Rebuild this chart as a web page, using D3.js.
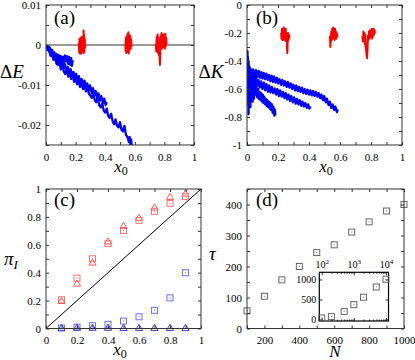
<!DOCTYPE html>
<html>
<head>
<meta charset="utf-8">
<script src="https://cdn.jsdelivr.net/npm/d3@7"></script>
<style>
body { margin: 0; background: #fff; }
svg, svg text { font-family: "Liberation Serif", "Times New Roman", Times, "DejaVu Serif", serif; fill: #000; }
</style>
</head>
<body>
<div id="chart"></div>
<script>
// ---- panel (a): energy change vs x0
const dEBlue1 = [[0,0],[0.008,-0.0009],[0.013,-0.0003],[0.02,-0.0016],[0.027,-0.0008],[0.035,-0.0023],[0.041,-0.0012],[0.05,-0.0030],[0.056,-0.0018],[0.064,-0.0034],[0.07,-0.0022],[0.079,-0.0039],[0.085,-0.0025],[0.094,-0.0042],[0.099,-0.0027],[0.108,-0.0046],[0.114,-0.0030],[0.121,-0.0044],[0.127,-0.0026],[0.135,-0.0041],[0.141,-0.0028],[0.15,-0.0047],[0.156,-0.0030],[0.163,-0.0049],[0.17,-0.0033],[0.175,-0.0052],[0.18,-0.0038]];
const dEBlue2 = [[0,0],[0.01,-0.0010],[0.018,-0.0004],[0.027,-0.0020],[0.035,-0.0012],[0.046,-0.0030],[0.054,-0.0019],[0.065,-0.0038],[0.073,-0.0029],[0.083,-0.0045],[0.091,-0.0034],[0.1,-0.0053],[0.109,-0.0043],[0.12,-0.0059],[0.128,-0.0048],[0.139,-0.0066],[0.147,-0.0055],[0.158,-0.0072],[0.166,-0.0060],[0.176,-0.0079],[0.185,-0.0067],[0.195,-0.0083],[0.204,-0.0072],[0.214,-0.0090],[0.222,-0.0078],[0.233,-0.0094],[0.241,-0.0085],[0.252,-0.0101],[0.26,-0.0089],[0.271,-0.0107],[0.279,-0.0096],[0.29,-0.0113],[0.298,-0.0101],[0.309,-0.0120],[0.317,-0.0108],[0.328,-0.0126],[0.336,-0.0115],[0.347,-0.0133],[0.355,-0.0121],[0.366,-0.0139],[0.374,-0.0128],[0.385,-0.0145],[0.393,-0.0134],[0.403,-0.0150],[0.41,-0.0142]];
const dEBlue3 = [[0,0],[0.01,-0.0012],[0.02,-0.0008],[0.03,-0.0027],[0.04,-0.0017],[0.05,-0.0037],[0.06,-0.0026],[0.07,-0.0046],[0.08,-0.0050],[0.09,-0.0039],[0.10,-0.0061],[0.11,-0.0050],[0.12,-0.0066],[0.13,-0.0072],[0.14,-0.0061],[0.15,-0.0079],[0.16,-0.0068],[0.17,-0.0085],[0.18,-0.0074],[0.19,-0.0092],[0.20,-0.0081],[0.21,-0.0098],[0.22,-0.0088],[0.23,-0.0105],[0.24,-0.0094],[0.25,-0.0110],[0.26,-0.0100],[0.27,-0.0116],[0.28,-0.0106],[0.29,-0.0122],[0.30,-0.0126],[0.31,-0.0132],[0.32,-0.0121],[0.33,-0.0138],[0.34,-0.0143],[0.35,-0.0132],[0.36,-0.0151],[0.37,-0.0156],[0.38,-0.0146],[0.39,-0.0164],[0.40,-0.0169],[0.41,-0.0159],[0.42,-0.0177],[0.43,-0.0182],[0.44,-0.0172],[0.45,-0.0190],[0.46,-0.0198],[0.47,-0.0186],[0.48,-0.0202],[0.49,-0.0206],[0.50,-0.0193],[0.51,-0.0212],[0.52,-0.0216],[0.53,-0.0202],[0.54,-0.0224],[0.55,-0.0230],[0.56,-0.0242],[0.565,-0.0230],[0.57,-0.0249],[0.575,-0.0236],[0.58,-0.0254]];
const dERed1 = [[0.222,0.0005],[0.224,-0.0018],[0.226,0.0015],[0.228,-0.0021],[0.230,0.0012],[0.232,-0.0015],[0.234,0.0018],[0.236,-0.0022],[0.238,0.0010],[0.240,-0.0012],[0.242,0.0020],[0.244,-0.0019],[0.246,0.0014],[0.248,-0.0016],[0.250,0.0022],[0.252,-0.0010],[0.254,0.0036],[0.256,-0.0020],[0.258,0.0025],[0.260,-0.0014],[0.262,0.0015],[0.264,-0.0008]];
const dERed2 = [[0.536,0.0003],[0.538,-0.0015],[0.540,0.0018],[0.542,-0.0020],[0.545,0.0022],[0.548,-0.0018],[0.551,0.0028],[0.554,-0.0016],[0.557,0.0032],[0.560,-0.0021],[0.563,0.0020],[0.566,-0.0012],[0.569,0.0024],[0.572,-0.0010],[0.575,0.0015],[0.578,-0.0005]];
const dERed3 = [[0.742,0.0004],[0.745,-0.0016],[0.748,0.0020],[0.751,-0.0012],[0.754,0.0026],[0.757,-0.0020],[0.760,0.0018],[0.763,-0.0025],[0.766,0.0012],[0.768,-0.0035],[0.770,-0.0050],[0.772,-0.0020],[0.775,0.0024],[0.778,-0.0010],[0.781,0.0030],[0.784,-0.0008],[0.787,0.0022],[0.790,-0.0006],[0.793,0.0026],[0.796,-0.0004],[0.800,0.0020],[0.803,-0.0009],[0.806,0.0028],[0.809,-0.0003],[0.812,0.0018],[0.815,0.0002]];
const aYTicks = [0.01, 0, -0.01, -0.02];
const aYMinor = [0.005, -0.005, -0.015, -0.025];

// ---- panel (b): kinetic change vs x0
const dKBlue1 = [[0,-0.47],[0.002,-0.64],[0.004,-0.37],[0.006,-0.71],[0.008,-0.43],[0.010,-0.78],[0.013,-0.49],[0.016,-0.69],[0.019,-0.45],[0.022,-0.73],[0.025,-0.52],[0.028,-0.67],[0.032,-0.54],[0.036,-0.69],[0.040,-0.56],[0.045,-0.67],[0.050,-0.57],[0.055,-0.64],[0.060,-0.59],[0.066,-0.66],[0.071,-0.60],[0.077,-0.67],[0.081,-0.62],[0.087,-0.68],[0.091,-0.63],[0.097,-0.69],[0.101,-0.64],[0.107,-0.70],[0.111,-0.655],[0.117,-0.71],[0.121,-0.67],[0.127,-0.72],[0.131,-0.68],[0.137,-0.73],[0.141,-0.69],[0.147,-0.74],[0.151,-0.70],[0.157,-0.75],[0.161,-0.71],[0.166,-0.77],[0.171,-0.73],[0.176,-0.79],[0.180,-0.75],[0.183,-0.79]];
const dKBlue2 = [[0,-0.50],[0.003,-0.33],[0.006,-0.58],[0.009,-0.40],[0.012,-0.64],[0.015,-0.44],[0.018,-0.60],[0.021,-0.47],[0.025,-0.62],[0.03,-0.49],[0.035,-0.61],[0.04,-0.51],[0.05,-0.59],[0.058,-0.52],[0.066,-0.58],[0.074,-0.535],[0.083,-0.59],[0.091,-0.545],[0.10,-0.60],[0.109,-0.555],[0.118,-0.61],[0.126,-0.565],[0.135,-0.62],[0.143,-0.575],[0.152,-0.625],[0.16,-0.585],[0.17,-0.63],[0.178,-0.595],[0.188,-0.64],[0.196,-0.60],[0.206,-0.65],[0.214,-0.61],[0.224,-0.655],[0.232,-0.62],[0.242,-0.665],[0.25,-0.63],[0.26,-0.675],[0.268,-0.64],[0.278,-0.685],[0.286,-0.65],[0.296,-0.695],[0.304,-0.66],[0.314,-0.705],[0.322,-0.67],[0.332,-0.71],[0.34,-0.68],[0.35,-0.72],[0.358,-0.69],[0.368,-0.725],[0.376,-0.70],[0.386,-0.735],[0.394,-0.71],[0.403,-0.74],[0.41,-0.725]];
const dKBlue3 = [[0,-0.55],[0.003,-0.38],[0.006,-0.66],[0.009,-0.42],[0.012,-0.55],[0.016,-0.45],[0.02,-0.56],[0.025,-0.46],[0.03,-0.53],[0.04,-0.46],[0.05,-0.52],[0.058,-0.465],[0.067,-0.515],[0.075,-0.47],[0.084,-0.52],[0.092,-0.48],[0.10,-0.525],[0.108,-0.485],[0.117,-0.53],[0.125,-0.49],[0.134,-0.535],[0.142,-0.50],[0.151,-0.545],[0.159,-0.505],[0.168,-0.55],[0.176,-0.51],[0.185,-0.555],[0.193,-0.52],[0.202,-0.56],[0.21,-0.53],[0.22,-0.57],[0.228,-0.535],[0.238,-0.575],[0.246,-0.545],[0.256,-0.585],[0.264,-0.55],[0.274,-0.59],[0.282,-0.56],[0.292,-0.60],[0.30,-0.57],[0.31,-0.61],[0.318,-0.575],[0.328,-0.615],[0.336,-0.585],[0.346,-0.62],[0.354,-0.59],[0.364,-0.63],[0.372,-0.60],[0.382,-0.635],[0.39,-0.605],[0.40,-0.64],[0.408,-0.61],[0.418,-0.645],[0.426,-0.615],[0.436,-0.65],[0.444,-0.62],[0.454,-0.655],[0.462,-0.63],[0.472,-0.665],[0.48,-0.64],[0.49,-0.68],[0.498,-0.65],[0.508,-0.695],[0.516,-0.67],[0.526,-0.715],[0.534,-0.69],[0.544,-0.735],[0.552,-0.71],[0.562,-0.75],[0.57,-0.725],[0.58,-0.765],[0.587,-0.745]];
const dKRed1 = [[0.220,-0.20],[0.223,-0.24],[0.226,-0.17],[0.229,-0.25],[0.232,-0.18],[0.235,-0.23],[0.238,-0.16],[0.241,-0.25],[0.244,-0.19],[0.247,-0.24],[0.250,-0.17],[0.253,-0.26],[0.256,-0.20],[0.258,-0.30],[0.260,-0.345],[0.262,-0.28],[0.265,-0.20],[0.268,-0.25],[0.271,-0.21],[0.274,-0.24]];
const dKRed2 = [[0.535,-0.22],[0.538,-0.30],[0.541,-0.24],[0.544,-0.19],[0.547,-0.25],[0.550,-0.17],[0.553,-0.23],[0.556,-0.16],[0.559,-0.24],[0.562,-0.18],[0.565,-0.25],[0.568,-0.17],[0.571,-0.23],[0.574,-0.19],[0.577,-0.24],[0.580,-0.20],[0.583,-0.23]];
const dKRed3 = [[0.745,-0.22],[0.748,-0.26],[0.751,-0.19],[0.754,-0.25],[0.757,-0.20],[0.760,-0.28],[0.763,-0.21],[0.766,-0.30],[0.769,-0.33],[0.772,-0.36],[0.775,-0.38],[0.778,-0.30],[0.781,-0.22],[0.784,-0.25],[0.787,-0.19],[0.790,-0.24],[0.793,-0.18],[0.796,-0.23],[0.799,-0.19],[0.802,-0.22],[0.805,-0.17],[0.808,-0.24],[0.811,-0.18],[0.814,-0.22],[0.817,-0.17],[0.820,-0.21],[0.823,-0.18],[0.826,-0.20]];
const bYTicks = [0, -0.2, -0.4, -0.6, -0.8, -1];
const bYMinor = [-0.1, -0.3, -0.5, -0.7, -0.9];

// ---- panel (c): pi_I vs x0
const x0Vals = [0.1, 0.2, 0.3, 0.4, 0.5, 0.6, 0.7, 0.8, 0.9];
const piRedSq = [0.206, 0.361, 0.50, 0.608, 0.703, 0.775, 0.84, 0.897, 0.945];
const piRedTri = [0.194, 0.318, 0.469, 0.62, 0.732, 0.79, 0.864, 0.94, 0.965];
const piBlueSq = [0.003, 0.01, 0.02, 0.03, 0.053, 0.084, 0.13, 0.22, 0.40];
const piBlueTri = [0.002, 0.002, 0.002, 0.002, 0.001, 0.001, 0.001, 0.001, 0.001];
const unitTicks = [0, 0.2, 0.4, 0.6, 0.8, 1];
const unitMinor = [0.1, 0.3, 0.5, 0.7, 0.9];

// ---- panel (d): tau vs N
const nVals = [100, 200, 300, 400, 500, 600, 700, 800, 900, 1000];
const tauVals = [57, 104, 157, 200, 245, 270, 311, 344, 379, 400];
const nInset = [100, 200, 500, 1000, 2000, 5000, 10000];
const tauInset = [35, 70, 200, 370, 555, 812, 1005];
const dXTicks = [200, 400, 600, 800, 1000];
const dXMinor = [100, 300, 500, 700, 900];
const dYTicks = [0, 100, 200, 300, 400];
const dYMinor = [50, 150, 250, 350, 450];
const insetXTicks = [100, 1000, 10000];
const insetYTicks = [0, 500, 1000];

const serif = "Liberation Serif, Times New Roman, Times, DejaVu Serif, serif";

const svg = d3.select("#chart").append("svg")
    .attr("width", 415)
    .attr("height", 360)
    .attr("font-family", serif);

const fmt = (d) => String(d);
const frameColor = "#333";

// draws one set of ticks on one side; labels only if a format is given
function side(axisFn, scale, values, pos, fmtFn, pad, size, fontSize)
{
    let ax = axisFn(scale)
        .tickValues(values)
        .tickSizeInner(-(size || 3))
        .tickSizeOuter(0)
        .tickPadding(pad || 0)
        .tickFormat(fmtFn || "");
    let g = svg.append("g")
        .attr("transform", pos)
        .call(ax)
        .attr("font-family", serif)
        .attr("font-size", fontSize || 11);
    g.select(".domain").remove();
    g.selectAll("line").attr("stroke", frameColor);
    if (fmtFn)
        g.selectAll("text").attr("fill", "#000").style("font-family", serif);
    else
        g.selectAll("text").remove(); //tick marks only
    return g;
}

function panel(xScale, yScale, xMaj, xMin, yMaj, yMin, xPad, yPad)
{
    let [l, r] = xScale.range(), [b, t] = yScale.range();
    side(d3.axisBottom, xScale, xMaj, `translate(0,${b})`, fmt, xPad);
    side(d3.axisBottom, xScale, xMin, `translate(0,${b})`);
    side(d3.axisTop, xScale, xMaj.concat(xMin), `translate(0,${t})`);
    side(d3.axisLeft, yScale, yMaj, `translate(${l},0)`, fmt, yPad);
    side(d3.axisLeft, yScale, yMin, `translate(${l},0)`);
    side(d3.axisRight, yScale, yMaj.concat(yMin), `translate(${r},0)`);
    svg.append("rect")
        .attr("x", l).attr("y", t)
        .attr("width", r - l).attr("height", b - t)
        .attr("fill", "none")
        .attr("stroke", frameColor)
        .attr("stroke-width", 1);
}

function clip(id, xScale, yScale)
{
    let [l, r] = xScale.range(), [b, t] = yScale.range();
    svg.append("clipPath").attr("id", id)
        .append("rect").attr("x", l).attr("y", t).attr("width", r - l).attr("height", b - t);
}

function trace(data, xScale, yScale, color, clipId, w)
{
    let line = d3.line().x(d => xScale(d[0])).y(d => yScale(d[1]));
    svg.append("path")
        .datum(data)
        .attr("clip-path", `url(#${clipId})`)
        .attr("fill", "none")
        .attr("stroke", color)
        .attr("stroke-width", w)
        .attr("stroke-linejoin", "round")
        .attr("d", line);
}

function squares(xs, ys, xScale, yScale, color, size)
{
    let h = size / 2;
    let g = svg.append("g");
    xs.forEach((xv, i) => {
        let cx = xScale(xv), cy = yScale(ys[i]);
        g.append("rect")
            .attr("x", cx - h).attr("y", cy - h)
            .attr("width", size).attr("height", size)
            .attr("fill", "none").attr("stroke", color).attr("stroke-width", 1);
        g.append("rect")
            .attr("x", cx - 0.5).attr("y", cy - 0.5)
            .attr("width", 1).attr("height", 1)
            .attr("fill", color);
    });
}

function triangles(xs, ys, xScale, yScale, color)
{
    let sym = d3.symbol(d3.symbolTriangle, 22);
    svg.append("g").selectAll("path")
        .data(xs)
        .enter().append("path")
        .attr("transform", (d, i) => `translate(${xScale(d)},${yScale(ys[i])})`)
        .attr("d", sym)
        .attr("fill", "none")
        .attr("stroke", color)
        .attr("stroke-width", 1);
}

function xLabel(x, y)
{
    let t = svg.append("text").attr("x", x).attr("y", y)
        .attr("text-anchor", "middle").attr("font-size", 17);
    t.append("tspan").attr("font-style", "italic").text("x");
    t.append("tspan").attr("font-size", 12).attr("dy", 3).text("0");
}

function deltaLabel(x, y, letter)
{
    let t = svg.append("text").attr("x", x).attr("y", y)
        .attr("text-anchor", "middle").attr("font-size", 19);
    t.append("tspan").text("Δ");
    t.append("tspan").attr("font-style", "italic").text(letter);
}

function tag(x, y, s)
{
    svg.append("text").attr("x", x).attr("y", y)
        .attr("font-size", 19).text(s);
}

// ---------- (a)
let xA = d3.scaleLinear().domain([0, 1]).range([46, 194]);
let yA = d3.scaleLinear().domain([-0.025, 0.01]).range([145, 5]);
svg.append("line")
    .attr("x1", xA(0)).attr("x2", xA(1))
    .attr("y1", yA(0)).attr("y2", yA(0))
    .attr("stroke", "#333").attr("stroke-width", 1);
clip("clipA", xA, yA);
[dEBlue1, dEBlue2, dEBlue3].forEach(s => trace(s, xA, yA, "#0000ff", "clipA", 2.3));
[dERed1, dERed2, dERed3].forEach(s => trace(s, xA, yA, "#ff0000", "clipA", 2));
panel(xA, yA, unitTicks, unitMinor, aYTicks, aYMinor, 8, 5);
deltaLabel(12, 78, "E");
xLabel(121, 172);
tag(54, 24, "(a)");

// ---------- (b)
let xB = d3.scaleLinear().domain([0, 1]).range([247, 402]);
let yB = d3.scaleLinear().domain([-1, 0]).range([145, 5]);
clip("clipB", xB, yB);
[dKBlue1, dKBlue2, dKBlue3].forEach(s => trace(s, xB, yB, "#0000ff", "clipB", 2.3));
[dKRed1, dKRed2, dKRed3].forEach(s => trace(s, xB, yB, "#ff0000", "clipB", 2));
panel(xB, yB, unitTicks, unitMinor, bYTicks, bYMinor, 8, 5);
deltaLabel(211, 78, "K");
xLabel(326, 172);
tag(256, 24, "(b)");

// ---------- (c)
let xC = d3.scaleLinear().domain([0, 1]).range([46, 201]);
let yC = d3.scaleLinear().domain([0, 1]).range([328.5, 189]);
svg.append("line")
    .attr("x1", xC(0)).attr("y1", yC(0))
    .attr("x2", xC(1)).attr("y2", yC(1))
    .attr("stroke", "#000").attr("stroke-width", 1);
squares(x0Vals, piBlueSq, xC, yC, "#6f6fff", 6);
triangles(x0Vals, piBlueTri, xC, yC, "#3c3cd8");
squares(x0Vals, piRedSq, xC, yC, "#ff6f6f", 6);
triangles(x0Vals, piRedTri, xC, yC, "#ff5f5f");
panel(xC, yC, unitTicks, unitMinor, unitTicks, unitMinor, 8, 5);
let piT = svg.append("text").attr("x", 4).attr("y", 265).attr("font-size", 19);
piT.append("tspan").attr("font-style", "italic").text("π");
piT.append("tspan").attr("font-style", "italic").attr("font-size", 13).attr("dy", 4).text("I");
xLabel(120, 355);
tag(54, 206, "(c)");

// ---------- (d)
let xD = d3.scaleLinear().domain([100, 1000]).range([247, 404]);
let yD = d3.scaleLinear().domain([0, 450]).range([328.5, 189]);
squares(nVals, tauVals, xD, yD, "#666", 6);
panel(xD, yD, dXTicks, dXMinor, dYTicks, dYMinor, 8, 5);
svg.append("text").attr("x", 209).attr("y", 260)
    .attr("font-size", 19).attr("font-style", "italic").text("τ");
svg.append("text").attr("x", 335).attr("y", 357)
    .attr("font-size", 17).attr("font-style", "italic").attr("text-anchor", "middle").text("N");
tag(256, 206, "(d)");

// inset of (d): log N axis
let xI = d3.scaleLog().domain([84, 12000]).range([319.3, 388.5]);
let yI = d3.scaleLinear().domain([-40, 1180]).range([321, 272.3]);
svg.append("rect")
    .attr("x", 319.3).attr("y", 272.3)
    .attr("width", 388.5 - 319.3).attr("height", 321 - 272.3)
    .attr("fill", "#fff");
let minorLog = [];
[100, 1000].forEach(dec => { for (let k = 2; k <= 9; k++) minorLog.push(dec * k); });
side(d3.axisBottom, xI, insetXTicks, "translate(0,321)", null, 0, 3);
side(d3.axisBottom, xI, minorLog, "translate(0,321)", null, 0, 1.5);
side(d3.axisTop, xI, minorLog, "translate(0,272.3)", null, 0, 1.5);
let topAx = side(d3.axisTop, xI, insetXTicks, "translate(0,272.3)", fmt, 4, 3, 10);
topAx.selectAll(".tick text").each(function(d) {
    let t = d3.select(this);
    t.text("10");
    t.append("tspan").attr("font-size", 7).attr("dy", -4).text(Math.round(Math.log10(d)));
});
side(d3.axisLeft, yI, insetYTicks, "translate(319.3,0)", fmt, 3, 3, 10);
side(d3.axisRight, yI, insetYTicks, "translate(388.5,0)", null, 0, 3);
svg.append("rect")
    .attr("x", 319.3).attr("y", 272.3)
    .attr("width", 388.5 - 319.3).attr("height", 321 - 272.3)
    .attr("fill", "none").attr("stroke", "#000").attr("stroke-width", 1.2);
squares(nInset, tauInset, xI, yI, "#666", 6);
</script>
</body>
</html>
